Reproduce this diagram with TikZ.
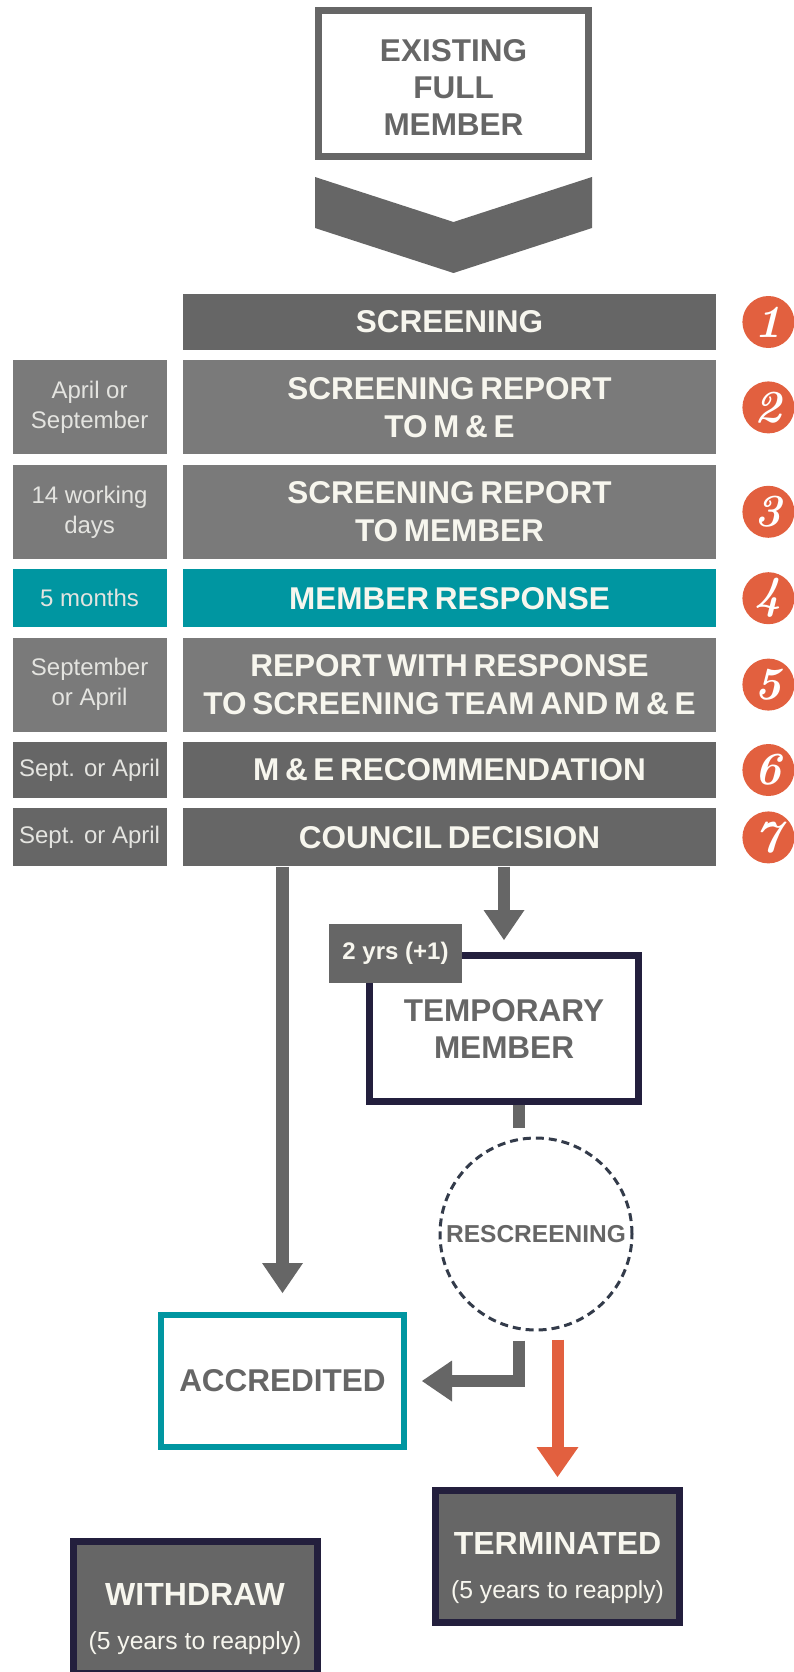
\documentclass[tikz,border=0pt]{standalone}
\usepackage{fontspec}
\newfontfamily\arialfont{Liberation Sans}
\usepackage{tikz}
\usepackage{xcolor}
\usetikzlibrary{arrows.meta, positioning, calc}

\definecolor{darkgrey}{HTML}{666666}
\definecolor{midgrey}{HTML}{7A7A7A}
\definecolor{tealblue}{HTML}{0096A1}
\definecolor{offwhite}{HTML}{F7F6EE}
\definecolor{palegrey}{HTML}{E4E4E0}
\definecolor{navy}{HTML}{231F3D}
\definecolor{redorange}{HTML}{E2603F}
\definecolor{slate}{HTML}{333B4A}

\newcommand{\barfont}{\arialfont\bfseries\fontsize{31.5}{38}\selectfont\spaceskip=5.7pt\relax}

\tikzstyle{fatarrow} = [draw=darkgrey, line width=13pt, -{Triangle[width=41pt, length=30pt, line width=0pt]}]
\tikzstyle{redarrow} = [draw=redorange, line width=12pt, -{Triangle[width=42pt, length=30pt, line width=0pt]}]

\begin{document}
\begin{tikzpicture}[
        x=1pt, y=1pt,
        rowbar/.style={fill=midgrey, text=offwhite, minimum width=533pt, minimum height=94pt, inner sep=0pt, align=center, font=\barfont},
        darkbar/.style={fill=darkgrey},
        tealbar/.style={fill=tealblue},
        datebox/.style={fill=midgrey, text=palegrey, minimum width=154pt, minimum height=94pt, inner sep=0pt, align=center, font=\arialfont\fontsize{24}{30}\selectfont},
        stepnum/.style={circle, fill=redorange, text=white, minimum size=52pt, inner sep=0pt, font=\bfseries\itshape\fontsize{46}{46}\selectfont},
        outlinebox/.style={draw, fill=white, line width=7pt, text=darkgrey, inner sep=0pt, align=center, font=\arialfont\bfseries\fontsize{31.5}{37}\selectfont},
        endbox/.style={draw=navy, fill=darkgrey, line width=7pt, text=offwhite, minimum width=244pt, minimum height=132pt, inner sep=0pt, align=center, font=\arialfont\fontsize{24.7}{44}\selectfont}
    ]
        \useasboundingbox (0,0) rectangle (794,-1672);

        % Start and chevron
        \node[outlinebox, draw=darkgrey, minimum width=270pt, minimum height=146pt] (existing) at (453.5,-83.5) {\rule{0pt}{31pt}EXISTING\\FULL\\MEMBER};
        \fill[darkgrey] (315,-177) -- (453.5,-222) -- (592,-177) -- (592,-228) -- (453.5,-273) -- (315,-228) -- cycle;

        % Steps
        \node[rowbar, darkbar, minimum height=56pt] (screening) at (449.5,-322) {SCREENING};
        \node[rowbar, below=10pt of screening] (reportme) {SCREENING REPORT\\TO M \& E};
        \node[rowbar, below=10pt of reportme] (reportmember) {SCREENING REPORT\\TO MEMBER};
        \node[rowbar, tealbar, minimum height=58pt, below=10pt of reportmember] (response) {MEMBER RESPONSE};
        \node[rowbar, below=10pt of response] (withresponse) {REPORT WITH RESPONSE\\TO SCREENING TEAM AND M \& E};
        \node[rowbar, darkbar, minimum height=56pt, below=10pt of withresponse] (recommend) {M \& E RECOMMENDATION};
        \node[rowbar, darkbar, minimum height=58pt, below=10pt of recommend] (council) {COUNCIL DECISION};

        % Timing boxes
        \node[datebox, left=16pt of reportme] (aprilsept) {April or\\September};
        \node[datebox, left=16pt of reportmember] (workingdays) {14 working\\days};
        \node[datebox, tealbar, minimum height=58pt, left=16pt of response] (fivemonths) {5 months};
        \node[datebox, left=16pt of withresponse] (septapril) {September\\or April};
        \node[datebox, darkbar, minimum height=56pt, left=16pt of recommend] (septrec) {Sept. or April};
        \node[datebox, darkbar, minimum height=58pt, left=16pt of council] (septcouncil) {Sept. or April};

        % Step numbers
        \node[stepnum, right=26pt of screening] (num1) {1};
        \node[stepnum, right=26pt of reportme] (num2) {2};
        \node[stepnum, right=26pt of reportmember] (num3) {3};
        \node[stepnum, right=26pt of response] (num4) {4};
        \node[stepnum, right=26pt of withresponse] (num5) {5};
        \node[stepnum, right=26pt of recommend] (num6) {6};
        \node[stepnum, right=26pt of council] (num7) {7};

        % Outcomes
        \node[outlinebox, draw=navy, minimum width=269pt, minimum height=146pt] (temporary) at (504,-1028.5) {TEMPORARY\\MEMBER};
        \node[fill=darkgrey, text=offwhite, minimum width=133pt, minimum height=59pt, inner sep=0pt, font=\arialfont\bfseries\fontsize{24}{24}\selectfont] (twoyears) at (395.5,-953.5) {2 yrs (+1)};
        \node[circle, draw=slate, line width=3pt, dash pattern=on 8pt off 5pt, minimum size=192pt, inner sep=0pt, text=darkgrey, font=\arialfont\bfseries\fontsize{24.5}{24}\selectfont] (rescreening) at (536,-1234) {RESCREENING};
        \node[outlinebox, draw=tealblue, line width=6pt, minimum width=243pt, minimum height=132pt] (accredited) at (282.5,-1381) {ACCREDITED};
        \node[endbox] (terminated) at (557.5,-1556.5) {\rule{0pt}{45pt}{\bfseries\fontsize{32}{44}\selectfont TERMINATED}\\(5 years to reapply)};
        \node[endbox] (withdraw) at (195,-1607.5) {\rule{0pt}{46pt}{\bfseries\fontsize{32}{44}\selectfont WITHDRAW}\\(5 years to reapply)};

        % Arrows
        \coordinate (stubend) at (519,-1128);
        \draw[fatarrow, shorten >=19pt] (council.south -| accredited.north) -- (accredited.north);
        \draw[fatarrow, line width=12pt, shorten >=12pt] (council.south -| temporary.north) -- (temporary.north);
        \draw[darkgrey, line width=12pt] ([xshift=15pt]temporary.south) -- (stubend);
        \draw[fatarrow, line width=12pt, shorten >=15pt] ($(rescreening.south)+(-17pt,-9pt)$) |- (accredited.east);
        \draw[redarrow, shorten >=10pt] ($(rescreening.south -| terminated.north)+(0,-8pt)$) -- (terminated.north);
    \end{tikzpicture}
\end{document}
